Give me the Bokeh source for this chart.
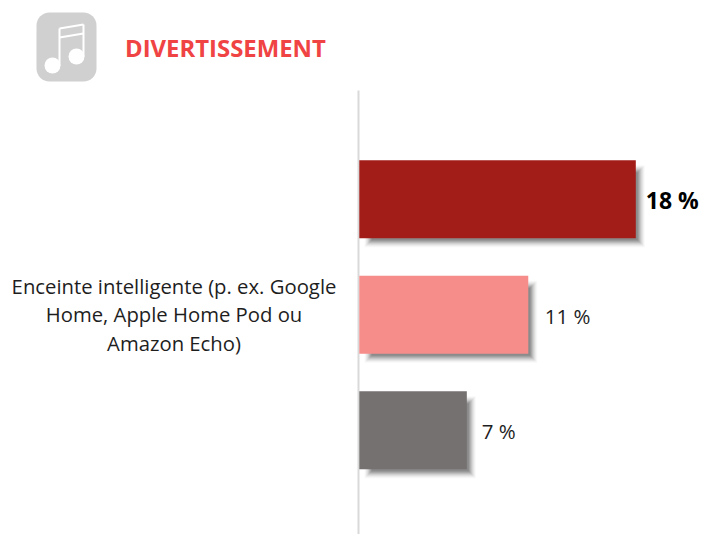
from bokeh.plotting import figure
from bokeh.models import Range1d, BoxAnnotation
from bokeh.core.properties import value
from bokeh.embed import file_html
from bokeh.resources import INLINE

title = "DIVERTISSEMENT"
category_lines = ["Enceinte intelligente (p. ex. Google", "Home, Apple Home Pod ou", "Amazon Echo)"]
series_values = [18, 11, 7]
value_labels = ["18 %", "11 %", "7 %"]
bar_colors = ["#A21C18", "#F68D8B", "#767171"]
positions = [0, 1, 2]

W, H = 703, 534
PXU = (635.5 - 359) / 18.0
PYU = 115.5
x0, y0 = 358.8, 198.8

def X(px):
    return (px - x0) / PXU
def Y(py):
    return (py - y0) / PYU

p = figure(width=W, height=H, output_backend="svg", toolbar_location=None,
           x_range=Range1d(X(0), X(W)), y_range=Range1d(Y(H), Y(0)),
           min_border=0, min_border_left=0, min_border_right=0,
           min_border_top=0, min_border_bottom=0, margin=(0, 0, 0, 0))
p.axis.visible = False
p.grid.visible = False
p.outline_line_color = None
p.background_fill_color = "white"
p.border_fill_color = "white"

# axis line
p.segment([X(358)], [Y(90)], [X(358)], [Y(534)], line_color="#D9D9D9", line_width=2)

# soft shadows
bh = 78 / PYU
for grow, a in [(5, 0.03), (4, 0.05), (3, 0.07), (2, 0.09), (1, 0.12), (0, 0.14), (-1, 0.16), (-2, 0.18)]:
    dx = 4 / PXU
    dy = 4 / PYU
    p.quad(left=[X(359 + 10 - grow)] * 3,
           right=[v + dx + grow / PXU for v in series_values],
           top=[q - bh / 2 + dy + 6 / PYU - grow / PYU for q in positions],
           bottom=[q + bh / 2 + dy + grow / PYU for q in positions],
           fill_color="#404040", fill_alpha=a, line_color=None)

p.hbar(y=positions, left=0, right=series_values, height=bh, fill_color=bar_colors, line_color=None)

# value labels
font = value("Open Sans")
weights = ["bold", "normal", "normal"]
offsets = [10, 16.5, 15]
for v, q, t, w, o in zip(series_values, positions, value_labels, weights, offsets):
    p.text([v], [q], text=[t], x_offset=[o], y_offset=[1],
           text_font=font, text_font_size="23px" if w == "bold" else "20.5px",
           text_font_style=w, text_color="#000000" if w == "bold" else "#1E1E1E",
           text_align="left", text_baseline="middle")

# category
for i, line in enumerate(category_lines):
    p.text([X(173.5)], [Y(285 + 28.5 * i)], text=[line], text_font=font, text_font_size="20.3px",
           text_color="#1E1E1E", text_align="center", text_baseline="middle")

# title
p.text([X(124.5)], [Y(47)], text=[title], text_font=font, text_font_size="23.9px", text_font_style="bold",
       text_color="#F04343", text_align="left", text_baseline="middle")

# icon
p.add_layout(BoxAnnotation(left=36, right=96, top=H - 12, bottom=H - 81,
                           left_units="screen", right_units="screen", top_units="screen", bottom_units="screen",
                           fill_color="#D0D0D0", fill_alpha=1, line_color=None, border_radius=13, level="underlay"))
white = "#FFFFFF"
p.ellipse([X(52), X(76)], [Y(65), Y(56)], width=16 / PXU, height=16 / PYU, fill_color=white, line_color=None)
p.segment([X(59), X(83)], [Y(65), Y(56)], [X(59), X(83)], [Y(28), Y(24)], line_color=white, line_width=2)
p.segment([X(59), X(59)], [Y(28), Y(37)], [X(83), X(83)], [Y(24), Y(33)], line_color=white, line_width=2)

open("out.html", "w").write(file_html(p, INLINE))
